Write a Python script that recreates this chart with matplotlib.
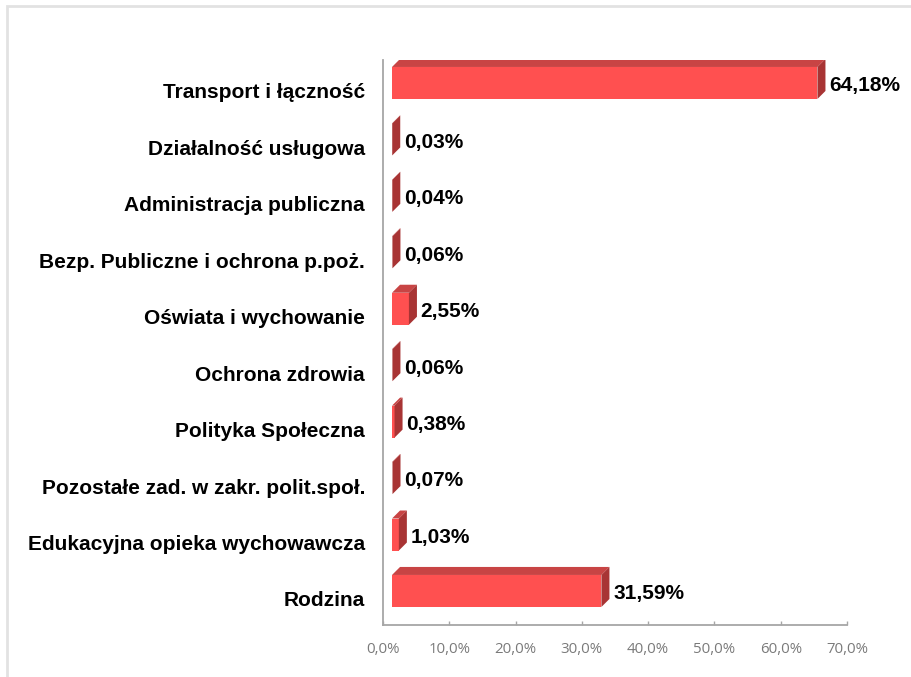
import matplotlib.pyplot as plt
from matplotlib.patches import Polygon, Rectangle

categories = ['Transport i łączność', 'Działalność usługowa', 'Administracja publiczna',
              'Bezp. Publiczne i ochrona p.poż.', 'Oświata i wychowanie', 'Ochrona zdrowia',
              'Polityka Społeczna', 'Pozostałe zad. w zakr. polit.społ.',
              'Edukacyjna opieka wychowawcza', 'Rodzina']
values = [64.18, 0.03, 0.04, 0.06, 2.55, 0.06, 0.38, 0.07, 1.03, 31.59]
value_labels = ['64,18%', '0,03%', '0,04%', '0,06%', '2,55%', '0,06%', '0,38%', '0,07%', '1,03%', '31,59%']
xticks = [0, 10, 20, 30, 40, 50, 60, 70]
xtick_labels = ['0,0%', '10,0%', '20,0%', '30,0%', '40,0%', '50,0%', '60,0%', '70,0%']

front_col = '#ff5050'
top_col = '#c84444'
side_col = '#a83434'

fig = plt.figure(figsize=(9.12, 6.77), dpi=100)
# light frame around the chart area (runs off the right and bottom edges)
fig.patches.append(Rectangle((7 / 912, -0.2), 1.2, 1.2 - 6.5 / 677, transform=fig.transFigure,
                             fill=False, edgecolor='#e2e2e2', linewidth=2))

ax = fig.add_axes([383 / 912, 1 - 625 / 677, 464 / 912, 565 / 677])

x0 = 1.36     # front face offset from the axis (data units)
dx = 1.21     # depth of the 3D effect in x
dy = 0.142    # depth of the 3D effect in y
h = 0.567     # bar height

for i, (v, lab) in enumerate(zip(values, value_labels)):
    yc = i - dy
    ax.barh(yc, v, left=x0, height=h, color=front_col, linewidth=0, zorder=3)
    yt, yb = yc - h / 2, yc + h / 2
    xr = x0 + v
    top = Polygon([(x0, yt), (xr, yt), (xr + dx, yt - dy), (x0 + dx, yt - dy)],
                  closed=True, facecolor=top_col, edgecolor='none', zorder=3)
    side = Polygon([(xr, yt), (xr + dx, yt - dy), (xr + dx, yb - dy), (xr, yb)],
                   closed=True, facecolor=side_col, edgecolor='none', zorder=3)
    ax.add_patch(top)
    ax.add_patch(side)
    ax.text(xr + dx + 0.55, yc + 0.05, lab, ha='left', va='center', fontsize=15,
            fontweight='bold', family='Liberation Sans', color='black', zorder=4)

ax.set_xlim(0, 70)
ax.set_ylim(9.461, -0.549)
ax.set_yticks(range(len(categories)))
ax.set_yticklabels(categories, fontsize=15, fontweight='bold', family='Liberation Sans', color='black')
ax.set_xticks(xticks)
ax.set_xticklabels(xtick_labels, fontsize=10.8, family='Open Sans', color='#7a7a7a')
ax.tick_params(axis='y', length=0, pad=13)
ax.tick_params(axis='x', direction='in', length=3, width=1, color='#a6a6a6', pad=12)

for s in ['top', 'right']:
    ax.spines[s].set_visible(False)
for s in ['left', 'bottom']:
    ax.spines[s].set_color('#a6a6a6')
    ax.spines[s].set_linewidth(1.3)

fig.savefig('out.png', dpi=100)
